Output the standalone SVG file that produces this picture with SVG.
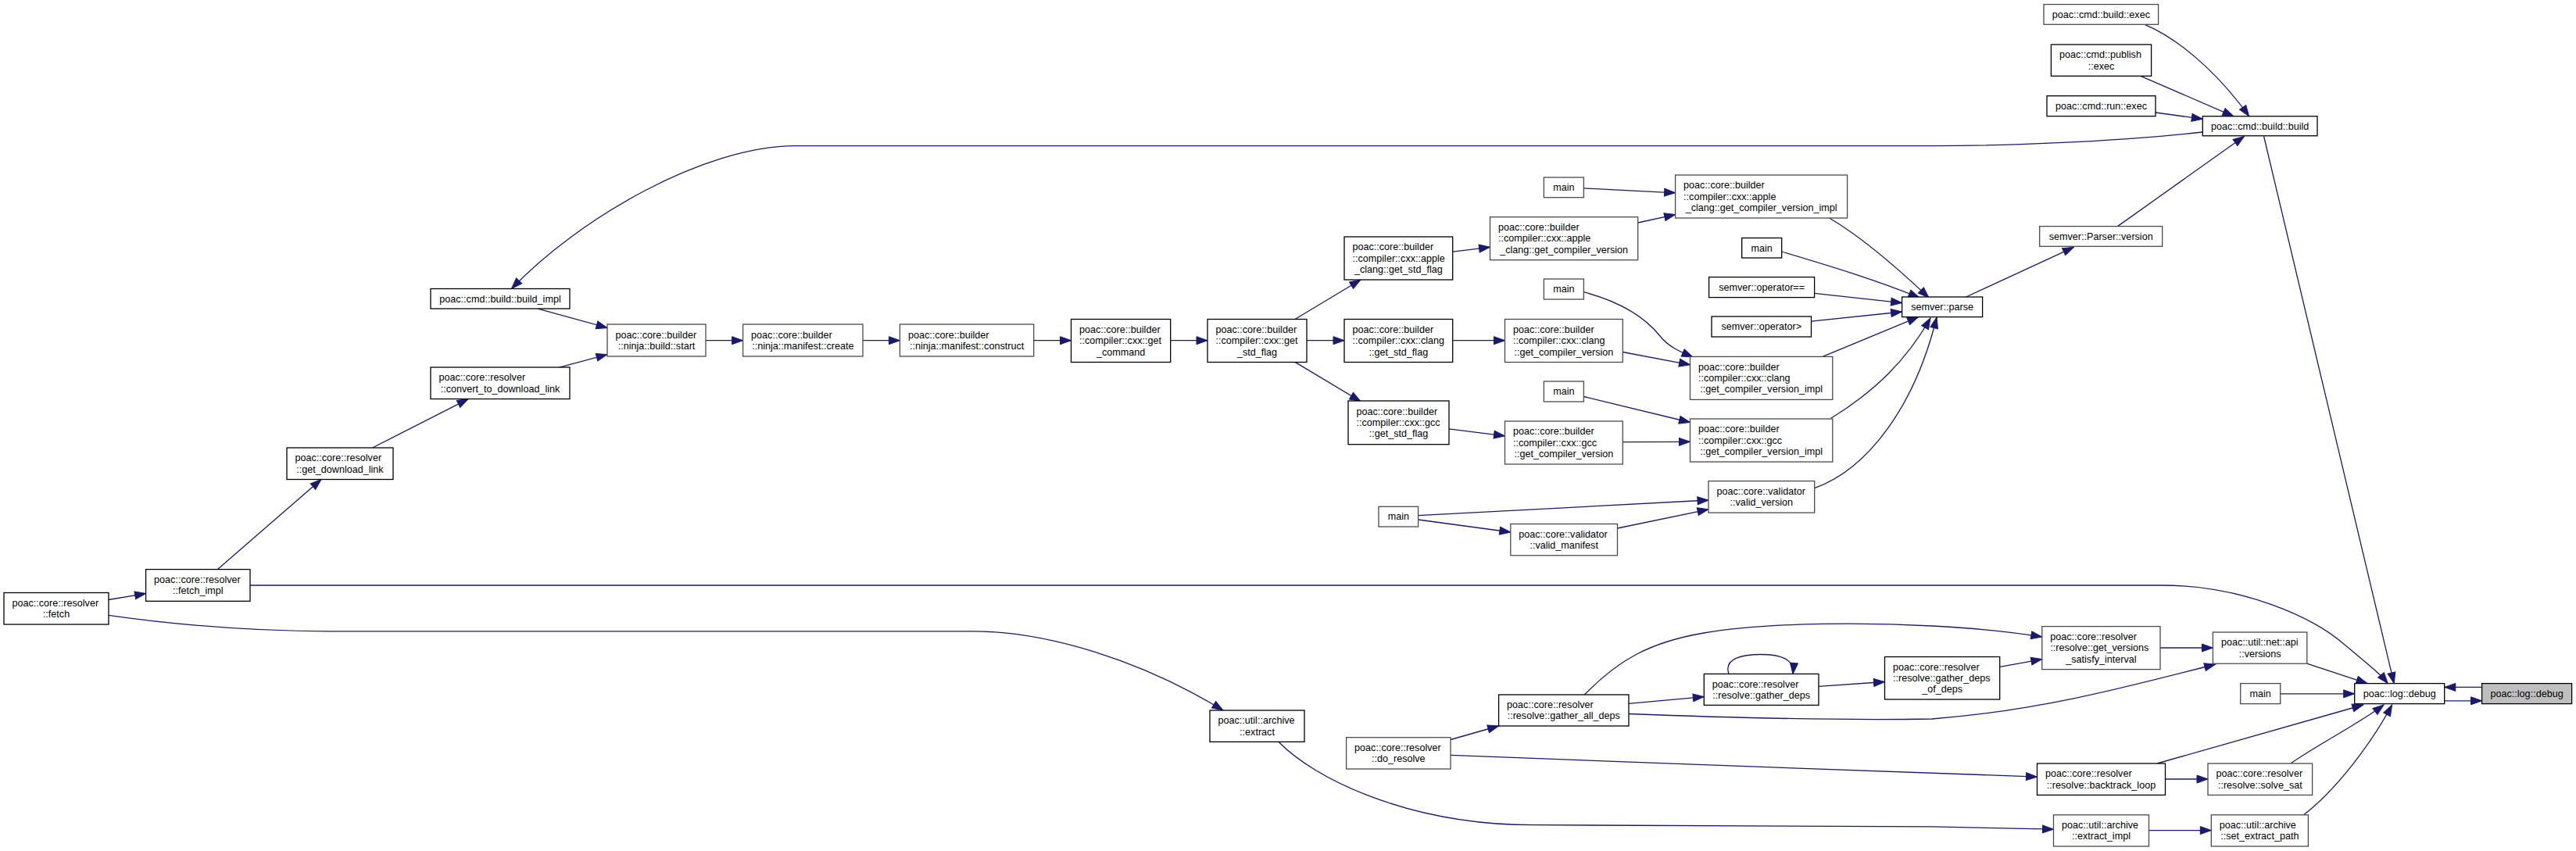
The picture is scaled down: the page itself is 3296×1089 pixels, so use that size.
<svg xmlns="http://www.w3.org/2000/svg" width="3296" height="1089" viewBox="0 0 3296 1089">
<style>
.n rect{fill:#fff;stroke:#000;stroke-width:1.3}
.n.g rect{stroke:#4a4a4a}
.n.f rect{fill:#bfbfbf}
.n text{font-family:"Liberation Sans",Arial,Helvetica,sans-serif;font-size:12.6px;fill:#000}
.n text.c{text-anchor:middle}
.e path{fill:none;stroke:#191970;stroke-width:1.3}
</style>
<defs>
<marker id="a" markerUnits="userSpaceOnUse" markerWidth="16" markerHeight="12" refX="14" refY="5.5" orient="auto" overflow="visible">
<path d="M0,0.5 L14,5.5 L0,10.5 z" fill="#191970" stroke="#191970" stroke-width="1"/>
</marker>
</defs>
<rect x="0" y="0" width="3296" height="1089" fill="#fff"/>

<g id="edges" class="e" marker-end="url(#a)">
<path d="M138.7,767.5 L186.6,759.5"/>
<path d="M278.5,728.6 L411,613.5"/>
<path d="M476.6,573 L599,510.6"/>
<path d="M714.7,470.3 L777,453.6"/>
<path d="M688.4,395.2 L777,419.5"/>
<path d="M903,435.7 L950.6,435.7"/>
<path d="M1104,435.7 L1151.4,435.7"/>
<path d="M1322.7,435.7 L1370.5,435.7"/>
<path d="M1497.7,435.7 L1545,435.7"/>
<path d="M1657,408.5 L1741,358"/>
<path d="M1672,435.7 L1720,435.7"/>
<path d="M1657,463.4 L1741,513.7"/>
<path d="M1858.7,322.2 L1906.5,316.3"/>
<path d="M2095.7,285 L2143.6,274.6"/>
<path d="M2026.4,240.9 L2143.6,246.8"/>
<path d="M1858.7,435.7 L1925.5,435.7"/>
<path d="M2076.3,450.5 L2162.5,466.8"/>
<path d="M2026.4,373.7 C2080,388 2108,410 2124,430 C2135,444 2150,450 2166,457"/>
<path d="M1854,548.9 L1925.5,557.9"/>
<path d="M2076.3,565.6 L2162.5,565.3"/>
<path d="M2026.4,507.5 L2162.5,540.5"/>
<path d="M1814.6,659.7 L2186,640"/>
<path d="M1814.6,665 L1932.8,681"/>
<path d="M2069.5,676 L2186,651.8"/>
<path d="M2340.6,279 C2385,305 2430,345 2468,381"/>
<path d="M2279.7,322 C2340,340 2400,358 2456,381"/>
<path d="M2321.7,375.4 L2433.6,387.6"/>
<path d="M2317.5,411.2 L2433.6,399"/>
<path d="M2332,456.4 L2454.6,405.6"/>
<path d="M2342.7,535.3 C2400,500 2440,460 2470,407"/>
<path d="M2321.7,624.6 C2390,600 2450,520 2478,406"/>
<path d="M2515.6,380 L2653.3,316.3"/>
<path d="M2709.5,289.6 L2871.4,174.5"/>
<path d="M2744.2,31.3 C2800,55 2850,110 2877.7,148.8"/>
<path d="M2739,97.3 L2858,148.8"/>
<path d="M2758,144 L2818.3,152.3"/>
<path d="M2818.3,169 C2700,182 2560,186.7 2472,186.7 L1018,186.7 C900,186.7 740,280 654.5,369.5"/>
<path d="M2896.6,174.5 L3063.2,874.6"/>
<path d="M320,749 L2766,749 C2870,749 2960,790 3000,825 C3030,850 3045,862 3055.3,874.6"/>
<path d="M138.7,787.3 C250,803 350,807.8 420,807.8 L1244,807.8 C1340,807.8 1460,845 1565,909"/>
<path d="M1636,949.3 C1680,995 1800,1055.7 1963,1055.7 L2472,1057.8 L2627.5,1061.2"/>
<path d="M1856,946.5 L1917.6,929"/>
<path d="M1856,966.3 C2100,976 2400,987 2606.5,994.1"/>
<path d="M2084,900.3 L2180.3,891.6"/>
<path d="M2212,862.4 C2205,842 2230,837.5 2253,837.5 C2278,837.5 2296,843 2294,862.4"/>
<path d="M2327,878.4 L2411.5,872.5"/>
<path d="M2027.4,889 C2070,845 2110,822 2180,810 C2270,795 2400,797 2472,801 C2530,804 2570,808 2612.8,815.1"/>
<path d="M2558.7,853.4 L2612.8,843.6"/>
<path d="M2764,829 L2831.4,829"/>
<path d="M2084,913.5 C2200,918 2350,922 2472,920 C2600,910 2700,885 2834.6,850"/>
<path d="M2951.8,849.2 L3029,874.6"/>
<path d="M2917.6,887.8 L3012.7,887.8"/>
<path d="M3127.8,896.8 L3175.6,896.8"/>
<path d="M3175.6,879.4 L3127.8,879.4"/>
<path d="M2760,977 L3023.8,902"/>
<path d="M2770.5,997 L2825,997"/>
<path d="M2930.8,977 C2970,950 3020,925 3050,902"/>
<path d="M2749.5,1062.6 L2829.3,1062.6"/>
<path d="M2947.6,1042.8 C2990,1010 3035,950 3060.6,902"/>
</g>

<g id="fetch" class="n"><rect x="5" y="758.5" width="134" height="40.5"/><text x="15.5" y="775.9">poac::core::resolver</text><text class="c" x="72" y="790.2">::fetch</text></g>
<g id="fetch_impl" class="n"><rect x="186.6" y="728.6" width="133.4" height="40.7"/><text x="197.1" y="746.1">poac::core::resolver</text><text class="c" x="253.3" y="760.4">::fetch_impl</text></g>
<g id="get_download_link" class="n"><rect x="367" y="573" width="136" height="40.5"/><text x="377.5" y="590.4">poac::core::resolver</text><text class="c" x="435" y="604.7">::get_download_link</text></g>
<g id="convert_to_download_link" class="n"><rect x="551" y="470" width="178" height="40.5"/><text x="561.5" y="487.4">poac::core::resolver</text><text class="c" x="640" y="501.7">::convert_to_download_link</text></g>
<g id="build_impl" class="n"><rect x="551" y="369.5" width="178" height="25.5"/><text class="c" x="640" y="386.6">poac::cmd::build::build_impl</text></g>
<g id="ninja_build_start" class="n g"><rect x="777" y="415" width="126" height="41"/><text x="787.5" y="432.6">poac::core::builder</text><text class="c" x="840" y="446.9">::ninja::build::start</text></g>
<g id="manifest_create" class="n g"><rect x="950.6" y="415" width="153.4" height="41"/><text x="961.1" y="432.6">poac::core::builder</text><text class="c" x="1027.3" y="446.9">::ninja::manifest::create</text></g>
<g id="manifest_construct" class="n g"><rect x="1151.4" y="415" width="171.3" height="41"/><text x="1161.9" y="432.6">poac::core::builder</text><text class="c" x="1237.05" y="446.9">::ninja::manifest::construct</text></g>
<g id="get_command" class="n"><rect x="1370.5" y="408.5" width="127.2" height="55"/><text x="1381" y="425.9">poac::core::builder</text><text x="1381" y="440.2">::compiler::cxx::get</text><text class="c" x="1434.1" y="454.5">_command</text></g>
<g id="get_std_flag" class="n"><rect x="1545" y="408.5" width="127" height="55"/><text x="1555.5" y="425.9">poac::core::builder</text><text x="1555.5" y="440.2">::compiler::cxx::get</text><text class="c" x="1608.5" y="454.5">_std_flag</text></g>
<g id="apple_get_std_flag" class="n"><rect x="1720" y="303" width="138.7" height="55"/><text x="1730.5" y="320.4">poac::core::builder</text><text x="1730.5" y="334.7">::compiler::cxx::apple</text><text class="c" x="1789.35" y="349">_clang::get_std_flag</text></g>
<g id="clang_get_std_flag" class="n"><rect x="1720" y="408.5" width="138.7" height="55"/><text x="1730.5" y="425.9">poac::core::builder</text><text x="1730.5" y="440.2">::compiler::cxx::clang</text><text class="c" x="1789.35" y="454.5">::get_std_flag</text></g>
<g id="gcc_get_std_flag" class="n"><rect x="1725" y="513" width="129" height="55.7"/><text x="1735.5" y="530.75">poac::core::builder</text><text x="1735.5" y="545.05">::compiler::cxx::gcc</text><text class="c" x="1789.5" y="559.35">::get_std_flag</text></g>
<g id="apple_get_compiler_version" class="n g"><rect x="1906.5" y="277.7" width="189.2" height="55"/><text x="1917" y="295.1">poac::core::builder</text><text x="1917" y="309.4">::compiler::cxx::apple</text><text class="c" x="2001.1" y="323.7">_clang::get_compiler_version</text></g>
<g id="clang_get_compiler_version" class="n g"><rect x="1925.5" y="408.5" width="150.8" height="55"/><text x="1936" y="425.9">poac::core::builder</text><text x="1936" y="440.2">::compiler::cxx::clang</text><text class="c" x="2000.9" y="454.5">::get_compiler_version</text></g>
<g id="gcc_get_compiler_version" class="n g"><rect x="1925.5" y="539" width="150.8" height="55"/><text x="1936" y="556.4">poac::core::builder</text><text x="1936" y="570.7">::compiler::cxx::gcc</text><text class="c" x="2000.9" y="585">::get_compiler_version</text></g>
<g id="main1" class="n g"><rect x="1975.4" y="227" width="51" height="25.7"/><text class="c" x="2000.9" y="244.15">main</text></g>
<g id="main3" class="n g"><rect x="1975.4" y="357" width="51" height="26"/><text class="c" x="2000.9" y="374.3">main</text></g>
<g id="main4" class="n g"><rect x="1975.4" y="488" width="51" height="26"/><text class="c" x="2000.9" y="505.3">main</text></g>
<g id="apple_get_compiler_version_impl" class="n g"><rect x="2143.6" y="224" width="220" height="55"/><text x="2154.1" y="241.4">poac::core::builder</text><text x="2154.1" y="255.7">::compiler::cxx::apple</text><text class="c" x="2253.6" y="270">_clang::get_compiler_version_impl</text></g>
<g id="main2" class="n"><rect x="2228.7" y="304.5" width="51" height="25.5"/><text class="c" x="2254.2" y="321.55">main</text></g>
<g id="semver_operator_eq" class="n"><rect x="2186.6" y="354.6" width="135" height="26"/><text class="c" x="2254.1" y="371.9">semver::operator==</text></g>
<g id="semver_operator_gt" class="n"><rect x="2190" y="405" width="127.5" height="26"/><text class="c" x="2253.75" y="422.3">semver::operator&gt;</text></g>
<g id="clang_get_compiler_version_impl" class="n g"><rect x="2162.5" y="456.4" width="182.3" height="55"/><text x="2173" y="473.8">poac::core::builder</text><text x="2173" y="488.1">::compiler::cxx::clang</text><text class="c" x="2253.65" y="502.4">::get_compiler_version_impl</text></g>
<g id="gcc_get_compiler_version_impl" class="n g"><rect x="2162.5" y="536" width="182.3" height="55"/><text x="2173" y="553.4">poac::core::builder</text><text x="2173" y="567.7">::compiler::cxx::gcc</text><text class="c" x="2253.65" y="582">::get_compiler_version_impl</text></g>
<g id="valid_version" class="n g"><rect x="2186" y="615.6" width="135.7" height="40.5"/><text x="2196.5" y="632.95">poac::core::validator</text><text class="c" x="2253.85" y="647.25">::valid_version</text></g>
<g id="main5" class="n g"><rect x="1764" y="648.3" width="50.6" height="25.7"/><text class="c" x="1789.3" y="665.45">main</text></g>
<g id="valid_manifest" class="n g"><rect x="1932.8" y="670.5" width="136.7" height="40.3"/><text x="1943.3" y="687.75">poac::core::validator</text><text class="c" x="2001.15" y="702.05">::valid_manifest</text></g>
<g id="semver_parse" class="n"><rect x="2433.6" y="380" width="103" height="25.6"/><text class="c" x="2485.1" y="397.1">semver::parse</text></g>
<g id="semver_parser_version" class="n g"><rect x="2609.7" y="289.6" width="157" height="25.7"/><text class="c" x="2688.2" y="306.75">semver::Parser::version</text></g>
<g id="cmd_build_build" class="n"><rect x="2818.3" y="148.8" width="146.7" height="25"/><text class="c" x="2891.65" y="165.6">poac::cmd::build::build</text></g>
<g id="cmd_build_exec" class="n g"><rect x="2615" y="5.6" width="146.6" height="25.7"/><text class="c" x="2688.3" y="22.75">poac::cmd::build::exec</text></g>
<g id="cmd_publish_exec" class="n"><rect x="2624.4" y="57" width="128.2" height="40.3"/><text x="2634.9" y="74.25">poac::cmd::publish</text><text class="c" x="2688.5" y="88.55">::exec</text></g>
<g id="cmd_run_exec" class="n"><rect x="2619" y="122.7" width="139" height="26"/><text class="c" x="2688.5" y="140">poac::cmd::run::exec</text></g>
<g id="archive_extract" class="n"><rect x="1548" y="909" width="121" height="40.3"/><text x="1558.5" y="926.25">poac::util::archive</text><text class="c" x="1608.5" y="940.55">::extract</text></g>
<g id="do_resolve" class="n g"><rect x="1722.6" y="943.7" width="133.4" height="40.3"/><text x="1733.1" y="960.95">poac::core::resolver</text><text class="c" x="1789.3" y="975.25">::do_resolve</text></g>
<g id="gather_all_deps" class="n"><rect x="1917.6" y="889" width="166.4" height="40"/><text x="1928.1" y="906.1">poac::core::resolver</text><text class="c" x="2000.8" y="920.4">::resolve::gather_all_deps</text></g>
<g id="gather_deps" class="n"><rect x="2180.3" y="862.4" width="146.7" height="40"/><text x="2190.8" y="879.5">poac::core::resolver</text><text class="c" x="2253.65" y="893.8">::resolve::gather_deps</text></g>
<g id="gather_deps_of_deps" class="n"><rect x="2411.5" y="840.5" width="147.2" height="54.5"/><text x="2422" y="857.65">poac::core::resolver</text><text x="2422" y="871.95">::resolve::gather_deps</text><text class="c" x="2485.1" y="886.25">_of_deps</text></g>
<g id="get_versions_satisfy_interval" class="n g"><rect x="2612.8" y="801.6" width="151.2" height="55"/><text x="2623.3" y="819">poac::core::resolver</text><text x="2623.3" y="833.3">::resolve::get_versions</text><text class="c" x="2688.4" y="847.6">_satisfy_interval</text></g>
<g id="net_api_versions" class="n g"><rect x="2831.4" y="809" width="120.4" height="40.2"/><text x="2841.9" y="826.2">poac::util::net::api</text><text class="c" x="2891.6" y="840.5">::versions</text></g>
<g id="main6" class="n g"><rect x="2866.7" y="874.6" width="51" height="26"/><text class="c" x="2892.2" y="891.9">main</text></g>
<g id="log_debug" class="n"><rect x="3012.7" y="874.6" width="115" height="26"/><text class="c" x="3070.2" y="891.9">poac::log::debug</text></g>
<g id="log_debug_focus" class="n f"><rect x="3175.6" y="874.6" width="115" height="26"/><text class="c" x="3233.1" y="891.9">poac::log::debug</text></g>
<g id="backtrack_loop" class="n"><rect x="2606.5" y="977" width="164" height="40.4"/><text x="2617" y="994.3">poac::core::resolver</text><text class="c" x="2688.5" y="1008.6">::resolve::backtrack_loop</text></g>
<g id="solve_sat" class="n g"><rect x="2825" y="977" width="133.6" height="40.4"/><text x="2835.5" y="994.3">poac::core::resolver</text><text class="c" x="2891.8" y="1008.6">::resolve::solve_sat</text></g>
<g id="extract_impl" class="n g"><rect x="2627.5" y="1042.8" width="122" height="40.2"/><text x="2638" y="1060">poac::util::archive</text><text class="c" x="2688.5" y="1074.3">::extract_impl</text></g>
<g id="set_extract_path" class="n g"><rect x="2829.3" y="1042.8" width="124.1" height="40.2"/><text x="2839.8" y="1060">poac::util::archive</text><text class="c" x="2891.35" y="1074.3">::set_extract_path</text></g>
</svg>
